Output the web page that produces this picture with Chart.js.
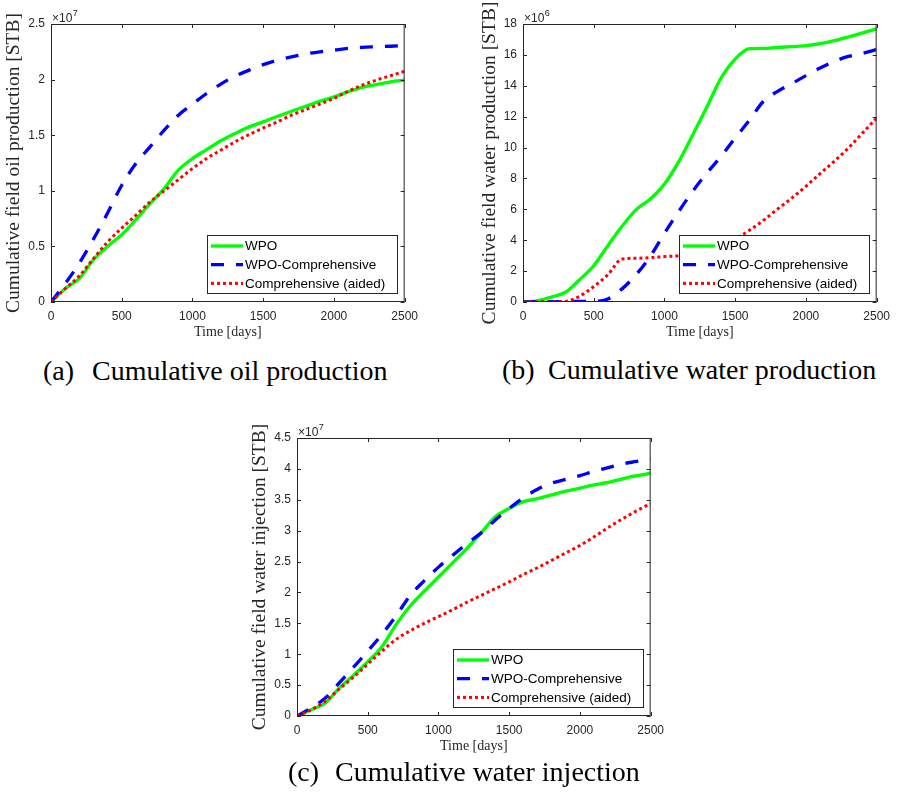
<!DOCTYPE html>
<html>
<head>
<meta charset="utf-8">
<script src="https://cdn.jsdelivr.net/npm/chart.js@4.4.1/dist/chart.umd.min.js"></script>
<style>
  body { margin: 0; background: #fff; width: 897px; height: 800px; overflow: hidden; position: relative; }
  canvas { position: absolute; }
  .cap { position: absolute; font-family: "Liberation Serif", "Times New Roman", serif; font-size: 28px; line-height: 28px; white-space: nowrap; color: #000; }
</style>
</head>
<body>
<canvas id="oil" width="425" height="345" style="left:0;top:0"></canvas>
<canvas id="water" width="425" height="345" style="left:472px;top:0"></canvas>
<canvas id="inject" width="425" height="345" style="left:246px;top:414px"></canvas>

<span class="cap" style="left:43px;top:357px">(a)</span>
<span class="cap" style="left:92px;top:357px">Cumulative oil production</span>
<span class="cap" style="left:502px;top:356px">(b)</span>
<span class="cap" style="left:548px;top:356px">Cumulative water production</span>
<span class="cap" style="left:288px;top:758px">(c)</span>
<span class="cap" style="left:335px;top:758px">Cumulative water injection</span>

<script>
const days = [0, 100, 200, 300, 400, 500, 600, 700, 800, 900, 1000, 1100, 1200,
              1300, 1400, 1500, 1600, 1700, 1800, 1900, 2000, 2100, 2200, 2300, 2400, 2500];
const dayTicks = [0, 500, 1000, 1500, 2000, 2500];
const seriesNames = ['WPO', 'WPO-Comprehensive', 'Comprehensive (aided)'];

// cumulative oil production, x1e7 STB
const oilWpo = [0, 0.12, 0.21, 0.38, 0.50, 0.605, 0.74, 0.885, 1.02, 1.185, 1.29, 1.37, 1.45,
                1.515, 1.575, 1.62, 1.67, 1.715, 1.76, 1.805, 1.845, 1.89, 1.93, 1.955, 1.98, 1.995];
const oilWpoComp = [0, 0.165, 0.35, 0.565, 0.80, 1.05, 1.245, 1.395, 1.545, 1.68, 1.78, 1.875, 1.96,
                    2.03, 2.085, 2.135, 2.175, 2.205, 2.23, 2.25, 2.265, 2.28, 2.29, 2.295, 2.30, 2.305];
const oilAided = [0, 0.12, 0.235, 0.39, 0.54, 0.665, 0.78, 0.90, 1.0, 1.10, 1.20, 1.29, 1.365,
                  1.44, 1.505, 1.565, 1.62, 1.68, 1.73, 1.78, 1.83, 1.895, 1.95, 1.995, 2.035, 2.075];
const oilTicks = [0, 0.5, 1, 1.5, 2, 2.5];

// cumulative water production, x1e6 STB
const watWpo = [0, 0.08, 0.32, 0.63, 1.45, 2.35, 3.65, 4.9, 5.98, 6.67, 7.64, 9.07, 10.83,
                12.63, 14.5, 15.73, 16.4, 16.42, 16.49, 16.53, 16.6, 16.73, 16.92, 17.16, 17.42, 17.68];
const watWpoComp = [0, 0.03, 0.03, 0.03, 0.04, 0.04, 0.2, 0.85, 1.77, 2.96, 4.45, 5.85, 7.17,
                    8.35, 9.43, 10.62, 11.76, 13.0, 13.64, 14.14, 14.66, 15.15, 15.58, 15.9, 16.1, 16.35];
const watAided = [0, 0.02, 0.02, 0.04, 0.37, 1.0, 1.77, 2.78, 2.83, 2.87, 2.94, 3.0, 3.13,
                  3.35, 3.65, 4.08, 4.64, 5.29, 6.02, 6.73, 7.49, 8.31, 9.11, 9.97, 10.94, 11.91];
const watTicks = [0, 2, 4, 6, 8, 10, 12, 14, 16, 18];

// cumulative water injection, x1e7 STB
const injWpo = [0, 0.10, 0.21, 0.455, 0.66, 0.88, 1.12, 1.48, 1.78, 2.02, 2.25, 2.48, 2.71,
                2.96, 3.22, 3.36, 3.47, 3.52, 3.58, 3.64, 3.69, 3.74, 3.78, 3.84, 3.89, 3.93];
const injWpoComp = [0, 0.13, 0.29, 0.54, 0.79, 1.05, 1.32, 1.62, 1.95, 2.19, 2.41, 2.6, 2.79,
                    2.96, 3.17, 3.36, 3.53, 3.67, 3.77, 3.83, 3.89, 3.96, 4.02, 4.08, 4.12, 4.16];
const injAided = [0, 0.1, 0.24, 0.44, 0.63, 0.84, 1.05, 1.24, 1.38, 1.50, 1.61, 1.72, 1.84,
                  1.95, 2.06, 2.17, 2.29, 2.40, 2.52, 2.64, 2.76, 2.90, 3.05, 3.19, 3.32, 3.44];
const injTicks = [0, 0.5, 1, 1.5, 2, 2.5, 3, 3.5, 4, 4.5];

const SANS = '"Liberation Sans", Arial, sans-serif';
const SERIF = '"Liberation Serif", "Times New Roman", serif';
const AXIS = '#262626';

// line looks: solid green, dashed blue, dotted red (red drawn on top)
const lineStyles = [
    { borderColor: '#00ff00', borderWidth: 3.3, borderDash: [], order: 3 },
    { borderColor: '#0000ff', borderWidth: 3.3, borderDash: [13, 12], order: 2 },
    { borderColor: '#ff0000', borderWidth: 3, borderDash: [3, 3], order: 1 }
];

Chart.defaults.font.family = SANS;
Chart.defaults.color = AXIS;

// boxed axes with inward ticks, exponent note and legend inside the plot
const matlabAxes = {
    id: 'matlabAxes',
    afterDatasetsDraw(chart, args, opts) {
        const { ctx, chartArea: a } = chart;
        const x = chart.scales.x, y = chart.scales.y;
        ctx.save();
        ctx.strokeStyle = AXIS;
        ctx.lineWidth = 1;
        ctx.beginPath();
        x.ticks.forEach(t => {
            const px = Math.round(x.getPixelForValue(t.value)) + 0.5;
            ctx.moveTo(px, a.bottom); ctx.lineTo(px, a.bottom - 4);
            ctx.moveTo(px, a.top); ctx.lineTo(px, a.top + 4);
        });
        y.ticks.forEach(t => {
            const py = Math.round(y.getPixelForValue(t.value)) + 0.5;
            ctx.moveTo(a.left, py); ctx.lineTo(a.left + 4, py);
            ctx.moveTo(a.right, py); ctx.lineTo(a.right - 4, py);
        });
        ctx.stroke();
        ctx.strokeRect(a.left + 0.5, a.top + 0.5, a.width - 1, a.height - 1);

        // x10^n above the y axis
        ctx.fillStyle = AXIS;
        ctx.textBaseline = 'alphabetic';
        ctx.font = '12px ' + SANS;
        ctx.fillText('\u00d710', a.left + 1, a.top - 2.5);
        const w = ctx.measureText('\u00d710').width;
        ctx.font = '9px ' + SANS;
        ctx.fillText(String(opts.exponent), a.left + 1.5 + w, a.top - 8);

        // legend
        const bw = 190, bh = 58;
        const bx = Math.round(a.right - 8 - bw), by = Math.round(a.bottom - 9 - bh);
        ctx.fillStyle = '#fff';
        ctx.fillRect(bx, by, bw, bh);
        ctx.strokeStyle = AXIS;
        ctx.lineWidth = 1;
        ctx.strokeRect(bx + 0.5, by + 0.5, bw, bh);
        chart.data.datasets.forEach((ds, i) => {
            const ly = by + 11 + i * 18.7;
            ctx.save();
            ctx.strokeStyle = ds.borderColor;
            ctx.lineWidth = ds.borderWidth;
            ctx.setLineDash(ds.borderDash);
            ctx.beginPath();
            ctx.moveTo(bx + 4, ly);
            ctx.lineTo(bx + 36, ly);
            ctx.stroke();
            ctx.restore();
            ctx.fillStyle = '#000';
            ctx.font = '13.5px ' + SANS;
            ctx.textBaseline = 'middle';
            ctx.fillText(ds.label, bx + 38, ly + 0.5);
        });
        ctx.restore();
    }
};

function drawPanel(id, yTitle, exponent, yTicks, series, titlePad) {
    return new Chart(document.getElementById(id), {
        type: 'line',
        data: {
            datasets: series.map((vals, i) => ({
                label: seriesNames[i],
                data: days.map((d, k) => ({ x: d, y: vals[k] })),
                ...lineStyles[i]
            }))
        },
        options: {
            responsive: false,
            animation: false,
            events: [],
            layout: { padding: { left: 0, top: 24, right: 18, bottom: 0 } },
            elements: {
                point: { radius: 0 },
                line: { cubicInterpolationMode: 'monotone', borderCapStyle: 'butt' }
            },
            plugins: {
                legend: { display: false },
                tooltip: { enabled: false },
                matlabAxes: { exponent: exponent }
            },
            scales: {
                x: {
                    type: 'linear',
                    min: 0,
                    max: 2500,
                    afterBuildTicks: s => { s.ticks = dayTicks.map(v => ({ value: v })); },
                    afterFit: s => { s.height = 43; },
                    grid: { display: false, drawTicks: false },
                    border: { display: false },
                    ticks: { padding: 7, maxRotation: 0, font: { size: 12 }, color: AXIS, callback: v => String(v) },
                    title: {
                        display: true, text: 'Time [days]', color: AXIS,
                        font: { family: SERIF, size: 14 }, padding: { top: 0, bottom: 4 }
                    }
                },
                y: {
                    type: 'linear',
                    min: 0,
                    max: yTicks[yTicks.length - 1],
                    afterBuildTicks: s => { s.ticks = yTicks.map(v => ({ value: v })); },
                    afterFit: s => { s.width = 51; },
                    grid: { display: false, drawTicks: false },
                    border: { display: false },
                    ticks: { padding: 6, font: { size: 12 }, color: AXIS, callback: v => String(v) },
                    title: {
                        display: true, text: yTitle, color: AXIS,
                        font: { family: SERIF, size: 19.5 }, padding: { top: titlePad, bottom: 0 }
                    }
                }
            }
        },
        plugins: [matlabAxes]
    });
}

drawPanel('oil', 'Cumulative field oil production [STB]', 7, oilTicks,
    [oilWpo, oilWpoComp, oilAided], 2);
drawPanel('water', 'Cumulative field water production [STB]', 6, watTicks,
    [watWpo, watWpoComp, watAided], 6);
drawPanel('inject', 'Cumulative field water injection [STB]', 7, injTicks,
    [injWpo, injWpoComp, injAided], 2);
</script>
</body>
</html>
